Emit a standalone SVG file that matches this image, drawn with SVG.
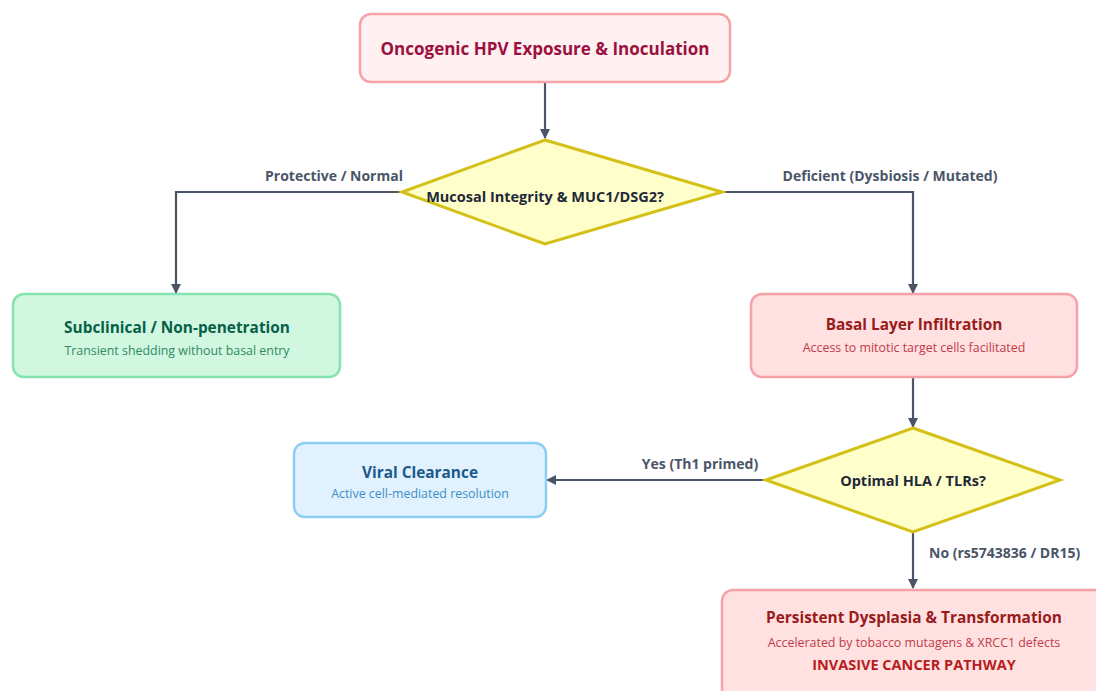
<svg xmlns="http://www.w3.org/2000/svg" width="1096" height="691" viewBox="0 0 1096 691">
<defs>
<marker id="ah" viewBox="0 0 10 10" refX="9" refY="5" markerWidth="10" markerHeight="10" markerUnits="userSpaceOnUse" orient="auto">
<path d="M0,0 L10,5 L0,10 z" fill="#4a5568"/>
</marker>
<style>
text{font-family:"Open Sans","Noto Sans","Liberation Sans",sans-serif;text-anchor:middle}
.t{font-weight:700;font-size:15.4px}
.s{font-size:12.4px}
.lbl{font-weight:700;font-size:14px;fill:#4a5568}
.c{fill:none;stroke:#4a5568;stroke-width:2.2;marker-end:url(#ah)}
.dia{fill:#ffffcc;stroke:#d4c017;stroke-width:3}
.red{fill:#ffe1e1;stroke:#f5a3a8;stroke-width:2.5}
</style>
</defs>
<rect width="1096" height="691" fill="#ffffff"/>
<g id="connectors">
<path class="c" d="M545,82 V138"/>
<path class="c" d="M402,192 H176 V293"/>
<path class="c" d="M722,192 H913 V293"/>
<path class="c" d="M913,377 V427"/>
<path class="c" d="M766,480 H547"/>
<path class="c" d="M913,532 V588"/>
<text class="lbl" x="334" y="181">Protective / Normal</text>
<text class="lbl" x="890" y="181">Deficient (Dysbiosis / Mutated)</text>
<text class="lbl" x="700" y="469">Yes (Th1 primed)</text>
<text class="lbl" x="929" y="558" style="text-anchor:start">No (rs5743836 / DR15)</text>
</g>
<g id="start">
<rect x="360" y="14" width="370" height="68" rx="11" fill="#fff0f1" stroke="#f5a3a8" stroke-width="2.5"/>
<text x="545" y="55" style="font-weight:700;font-size:17px;fill:#9b1040">Oncogenic HPV Exposure &amp; Inoculation</text>
</g>
<g id="decision1">
<polygon class="dia" points="545,140 722,192 545,244 402,192"/>
<text x="545" y="202" style="font-weight:700;font-size:14.5px;fill:#1f2937">Mucosal Integrity &amp; MUC1/DSG2?</text>
</g>
<g id="subclinical">
<rect x="13" y="294" width="327" height="83" rx="11" fill="#d1f7e1" stroke="#86e2ae" stroke-width="2.5"/>
<text class="t" x="177" y="333" fill="#065f46">Subclinical / Non-penetration</text>
<text class="s" x="177" y="355" fill="#2f8a5e">Transient shedding without basal entry</text>
</g>
<g id="basal">
<rect class="red" x="751" y="294" width="326" height="83" rx="11"/>
<text class="t" x="914" y="330" fill="#991b1b">Basal Layer Infiltration</text>
<text class="s" x="914" y="352" fill="#c23b47">Access to mitotic target cells facilitated</text>
</g>
<g id="decision2">
<polygon class="dia" points="913,428 1060,480 913,532 766,480"/>
<text x="913" y="486" style="font-weight:700;font-size:14.5px;fill:#1f2937">Optimal HLA / TLRs?</text>
</g>
<g id="clearance">
<rect x="294" y="443" width="252" height="74" rx="11" fill="#e1f1fd" stroke="#8ccff3" stroke-width="2.5"/>
<text class="t" x="420" y="478" fill="#1a5a8c">Viral Clearance</text>
<text class="s" x="420" y="498" fill="#3b8fc6">Active cell-mediated resolution</text>
</g>
<g id="persistent">
<rect class="red" x="722" y="590" width="384" height="120" rx="11"/>
<text class="t" x="914" y="623" fill="#991b1b">Persistent Dysplasia &amp; Transformation</text>
<text class="s" x="914" y="647" fill="#c23b47">Accelerated by tobacco mutagens &amp; XRCC1 defects</text>
<text x="914" y="670" style="font-weight:700;font-size:14.5px;fill:#b91c1c">INVASIVE CANCER PATHWAY</text>
</g>
</svg>
